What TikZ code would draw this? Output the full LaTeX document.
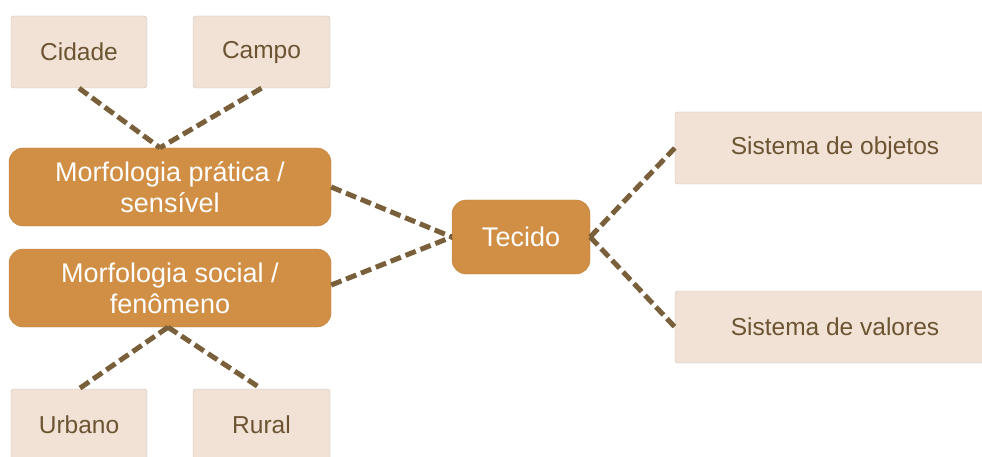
\documentclass[tikz,border=0pt]{standalone}
\usepackage{fontspec}
\setmainfont{Liberation Sans}
\usepackage{xcolor}
\usetikzlibrary{positioning}
\definecolor{palefill}{RGB}{242, 226, 214}
\definecolor{paleline}{RGB}{200, 190, 180}
\definecolor{ochre}{RGB}{209, 143, 69}
\definecolor{ochreline}{RGB}{188, 128, 62}
\definecolor{linkbrown}{RGB}{122, 96, 58}
\definecolor{textbrown}{RGB}{108, 84, 50}

\begin{document}
\begin{tikzpicture}[x=1pt,y=-1pt,
    palebox/.style={draw=paleline,fill=palefill,rounded corners=3pt,text=textbrown,inner sep=0pt,font=\fontsize{24.5}{29}\selectfont},
    ochrebox/.style={draw=ochreline,fill=ochre,rounded corners=14pt,text=white,align=center,inner sep=0pt,font=\fontsize{27}{31}\selectfont},
    link/.style={linkbrown,line width=5pt,dash pattern=on 11pt off 5pt}]
        \useasboundingbox (0,0) rectangle (982,457);

        % Top and bottom boxes
        \node[palebox,minimum width=136pt,minimum height=72pt] (cidade) at (79,52) {Cidade};
        \node[palebox,minimum width=137pt,minimum height=72pt] (campo) at (261.5,52) {Campo};
        \node[palebox,minimum width=136pt,minimum height=72pt] (urbano) at (79,425) {Urbano};
        \node[palebox,minimum width=137pt,minimum height=72pt] (rural) at (261.5,425) {Rural};

        % Morphology boxes
        \node[ochrebox,minimum width=322pt,minimum height=78pt] (pratica) at (170,187) {Morfologia prática /\\sensível};
        \node[ochrebox,minimum width=322pt,minimum height=78pt] (social) at (170,288) {Morfologia social /\\fenômeno};

        % Central node
        \node[ochrebox,minimum width=138pt,minimum height=74pt] (tecido) at (521,237) {Tecido};

        % Right boxes
        \node[palebox,minimum width=320pt,minimum height=72pt] (objetos) at (835,148) {Sistema de objetos};
        \node[palebox,minimum width=320pt,minimum height=72pt] (valores) at (835,327) {Sistema de valores};

        % Join points
        \coordinate (topjoin) at ([xshift=-10pt]pratica.north);
        \coordinate (botjoin) at ([xshift=-2pt]social.south);

        % Dashed connections
        \draw[link] (cidade.south) -- (topjoin);
        \draw[link] (campo.south) -- (topjoin);
        \draw[link] (botjoin) -- (urbano.north);
        \draw[link] (botjoin) -- (rural.north);
        \draw[link] (pratica.east) -- (tecido.west);
        \draw[link] ([yshift=3pt]social.east) -- (tecido.west);
        \draw[link] (tecido.east) -- (objetos.west);
        \draw[link] (tecido.east) -- (valores.west);
    \end{tikzpicture}
\end{document}
